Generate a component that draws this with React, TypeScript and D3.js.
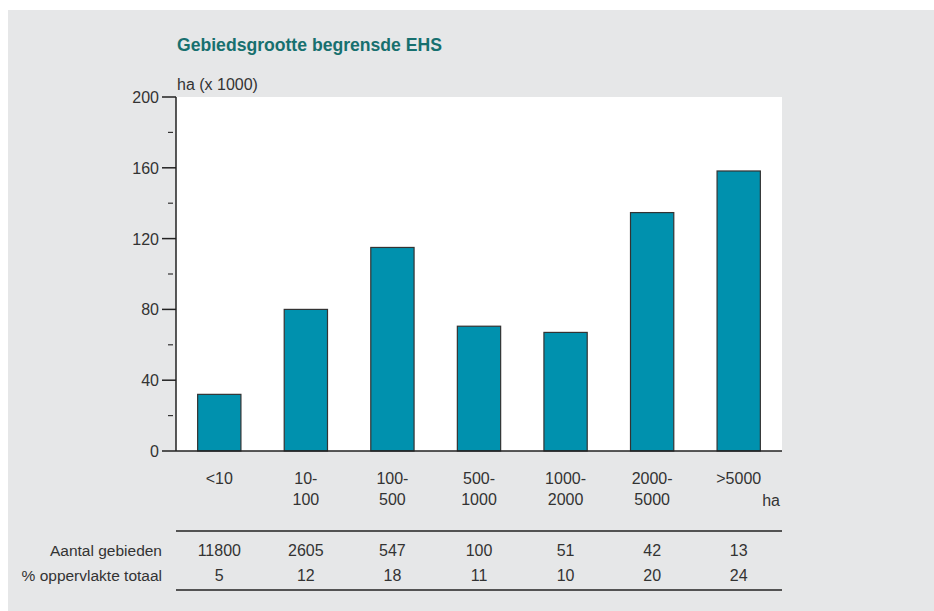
import React from "react";
import * as d3 from "d3";

const categories = ["<10", "10-100", "100-500", "500-1000", "1000-2000", "2000-5000", ">5000"];
const labelLines = [["<10"], ["10-", "100"], ["100-", "500"], ["500-", "1000"], ["1000-", "2000"], ["2000-", "5000"], [">5000"]];
const areaValues = [32, 80, 115, 70.5, 67, 134.7, 158.2];
const aantalGebieden = ["11800", "2605", "547", "100", "51", "42", "13"];
const percOppervlakte = ["5", "12", "18", "11", "10", "20", "24"];
const majorTicks = [0, 40, 80, 120, 160, 200];
const minorTicks = [20, 60, 100, 140, 180];

const W = 934;
const H = 611;
const plotL = 176;
const plotR = 782;
const plotT = 97;
const plotB = 451;
const font = "Arial, 'Liberation Sans', Helvetica, sans-serif";
const textColor = "#333333";

export default function App() {
  const x = d3.scaleBand<string>().domain(categories).range([plotL, plotR]).paddingInner(0.5).paddingOuter(0.25);
  const y = d3.scaleLinear().domain([0, 200]).range([plotB, plotT]);

  return (
    <svg width={W} height={H} style={{ position: "absolute", left: 0, top: 0 }} fontFamily={font}>
      <rect x={0} y={0} width={W} height={H} fill="#ffffff" />
      <rect x={8} y={10} width={W - 8} height={H - 10} fill="#e6e7e8" />
      <text x={177} y={51} fontSize={17.6} fontWeight="bold" fill="#17706f">
        Gebiedsgrootte begrensde EHS
      </text>
      <text x={177} y={90} fontSize={16} fill={textColor}>ha (x 1000)</text>
      <rect x={plotL} y={plotT} width={plotR - plotL} height={plotB - plotT} fill="#ffffff" />
      {categories.map((c, i) => (
        <rect
          key={c}
          x={x(c)!}
          y={y(areaValues[i])}
          width={x.bandwidth()}
          height={y(0) - y(areaValues[i])}
          fill="#0091ae"
          stroke="#333333"
          strokeWidth={1.2}
        />
      ))}
      <line x1={plotL} x2={plotL} y1={plotT} y2={plotB} stroke="#222" strokeWidth={1.5} />
      <line x1={plotL} x2={plotR} y1={plotB} y2={plotB} stroke="#222" strokeWidth={1.5} />
      {majorTicks.map((t) => (
        <g key={t}>
          <line x1={162} x2={plotL} y1={y(t)} y2={y(t)} stroke="#222" strokeWidth={1.5} />
          <text x={159} y={y(t) + 6} fontSize={16} textAnchor="end" fill={textColor}>{t}</text>
        </g>
      ))}
      {minorTicks.map((t) => (
        <line key={t} x1={168} x2={173} y1={y(t)} y2={y(t)} stroke="#333" strokeWidth={1.2} />
      ))}
      {categories.map((c, i) => (
        <text key={c} x={x(c)! + x.bandwidth() / 2} fontSize={16} textAnchor="middle" fill={textColor}>
          {labelLines[i].map((l, j) => (
            <tspan key={j} x={x(c)! + x.bandwidth() / 2} y={484 + j * 21}>{l}</tspan>
          ))}
        </text>
      ))}
      <text x={780} y={506} fontSize={16} textAnchor="end" fill={textColor}>ha</text>
      <line x1={plotL} x2={plotR} y1={531} y2={531} stroke="#222" strokeWidth={1.5} />
      <line x1={plotL} x2={plotR} y1={590} y2={590} stroke="#222" strokeWidth={1.5} />
      <text x={162} y={556} fontSize={15.5} textAnchor="end" fill={textColor}>Aantal gebieden</text>
      <text x={162} y={581} fontSize={15.5} textAnchor="end" fill={textColor}>% oppervlakte totaal</text>
      {categories.map((c, i) => (
        <g key={c}>
          <text x={x(c)! + x.bandwidth() / 2} y={556} fontSize={16} textAnchor="middle" fill={textColor}>{aantalGebieden[i]}</text>
          <text x={x(c)! + x.bandwidth() / 2} y={581} fontSize={16} textAnchor="middle" fill={textColor}>{percOppervlakte[i]}</text>
        </g>
      ))}
    </svg>
  );
}
